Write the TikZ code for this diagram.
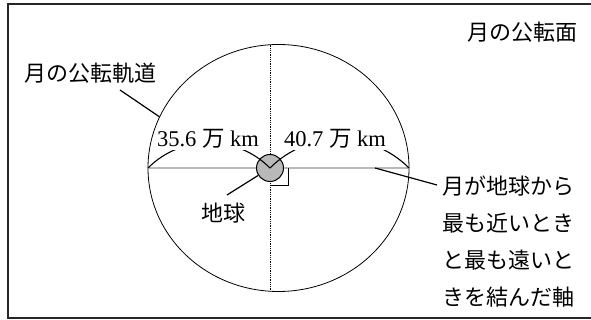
\documentclass[tikz,border=0pt]{standalone}
\usepackage{fontspec}
\setmainfont{Liberation Serif}
\newfontfamily\jp{Noto Sans CJK JP}
\begin{document}
\begin{tikzpicture}[x=1pt,y=1pt,
  jptext/.style={font=\jp\fontsize{22}{37}\selectfont, inner sep=0pt},
  numtext/.style={font=\fontsize{22.5}{24}\selectfont, fill=white, inner sep=1pt},
  leader/.style={line width=1.2pt},
  orbit/.style={line width=0.8pt},
  dimarc/.style={line width=1.1pt},
  frameline/.style={line width=1.5pt, black!85}]
\useasboundingbox (0,0) rectangle (591,320);
% frame (right side lies beyond the picture)
\draw[frameline] (591,316) -- (8,316) -- (8,2) -- (591,2);
% orbit
\draw[orbit] (278.5,152) ellipse [x radius=130.5, y radius=123.5];
% perpendicular axis (dotted)
\coordinate (vtop) at (270,275.3);
\coordinate (vbot) at (270,28.7);
\draw[line width=0.8pt, densely dotted] (vtop) -- (vbot);
% major axis
\coordinate (axL) at (148,152);
\coordinate (axR) at (409,152);
\draw[line width=2pt, gray!55] (axL) -- (axR);
% right-angle mark
\coordinate (ra1) at (270,135);
\coordinate (ra2) at (288,135);
\coordinate (ra3) at (288,152);
\draw[line width=0.9pt] (ra1) -- (ra2) -- (ra3);
% earth
\node[circle, draw, line width=1pt, fill=gray!55, minimum size=27pt, inner sep=0pt] (earth) at (270,152) {};
% distance arcs
\draw[dimarc] (axL) to[out=45,in=135] (earth.center);
\draw[dimarc] (earth.center) to[out=45,in=135] (axR);
\node[numtext] (near) at (208,181) {35.6 {\jp 万} km};
\node[numtext] (far) at (335,181) {40.7 {\jp 万} km};
% labels
\node[jptext] (plane) at (522,288) {月の公転面};
\node[jptext] (orbitlbl) at (90,247) {月の公転軌道};
\coordinate (orbitpt) at (159.7,203);
\draw[leader] (120,230) -- (orbitpt);
\node[jptext] (earthlbl) at (223,107) {地球};
\coordinate (earthlead) at (227,125);
\draw[leader] (earthlead) -- (earth);
\node[jptext, align=left, anchor=west] (axislbl) at (442,78) {月が地球から\\最も近いとき\\と最も遠いと\\きを結んだ軸};
\coordinate (axpt) at (375,152);
\coordinate (axlead) at (437,135);
\draw[leader] (axlead) -- (axpt);
\end{tikzpicture}
\end{document}
